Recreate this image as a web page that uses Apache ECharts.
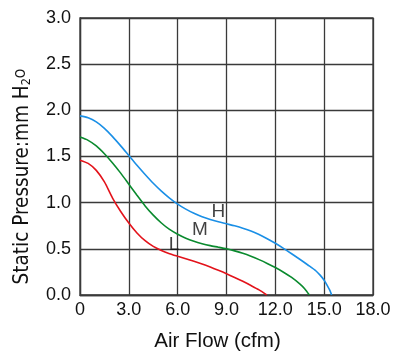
<!DOCTYPE html>
<html><head><meta charset="utf-8">
<script src="https://cdn.jsdelivr.net/npm/echarts@6/dist/echarts.min.js"></script>
<style>html,body{margin:0;padding:0;background:#fff}#c{width:400px;height:357px}</style>
</head><body><div id="c"></div>
<script>
const hFlow = [0, 0.5, 1, 1.5, 2, 2.5, 3, 3.5, 4, 4.5, 5, 5.5, 6, 6.5, 7, 7.5, 8, 8.5, 9, 9.5, 10, 10.5, 11, 11.5, 12, 12.5, 13, 13.5, 14, 14.5, 14.75, 15, 15.2, 15.35, 15.46];
const hPres = [1.94, 1.92, 1.875, 1.805, 1.715, 1.615, 1.51, 1.405, 1.305, 1.21, 1.125, 1.05, 0.985, 0.93, 0.885, 0.848, 0.818, 0.793, 0.771, 0.749, 0.724, 0.694, 0.655, 0.61, 0.56, 0.505, 0.447, 0.387, 0.325, 0.26, 0.215, 0.16, 0.10, 0.05, 0];
const mFlow = [0, 0.5, 1, 1.5, 2, 2.5, 3, 3.5, 4, 4.5, 5, 5.5, 6, 6.5, 7, 7.5, 8, 8.5, 9, 9.5, 10, 10.5, 11, 11.5, 12, 12.5, 13, 13.5, 13.8, 14.09];
const mPres = [1.71, 1.675, 1.615, 1.53, 1.43, 1.32, 1.20, 1.08, 0.965, 0.865, 0.78, 0.71, 0.658, 0.615, 0.582, 0.556, 0.535, 0.518, 0.50, 0.478, 0.452, 0.42, 0.383, 0.342, 0.297, 0.247, 0.19, 0.12, 0.068, 0];
const lFlow = [0, 0.5, 1, 1.5, 2, 2.5, 3, 3.5, 4, 4.5, 5, 5.5, 6, 6.5, 7, 7.5, 8, 8.5, 9, 9.5, 10, 10.5, 11, 11.47];
const lPres = [1.46, 1.425, 1.35, 1.225, 1.05, 0.905, 0.78, 0.672, 0.588, 0.526, 0.482, 0.448, 0.42, 0.393, 0.365, 0.335, 0.302, 0.267, 0.23, 0.19, 0.148, 0.103, 0.055, 0];
const xTicks = ['0', '3.0', '6.0', '9.0', '12.0', '15.0', '18.0'];
const yTicks = ['0.0', '0.5', '1.0', '1.5', '2.0', '2.5', '3.0'];
const curveNames = ['H', 'M', 'L'];
const curveLabelPos = [[8.5, 0.9], [7.37, 0.71], [5.77, 0.54]];
const yTitle = 'Static Pressure:mm H{sub|2}{o|O}';
const xTitle = 'Air Flow (cfm)';

const zip = (a, b) => a.map((v, i) => [v, b[i]]);
const colors = ['#1a8fe6', '#0a8a2e', '#e3131b'];
const datas = [zip(hFlow, hPres), zip(mFlow, mPres), zip(lFlow, lPres)];
const font = 'Liberation Sans, Arial, sans-serif';
const narrow = '"Liberation Sans Narrow", "Arial Narrow", "DejaVu Sans Condensed", sans-serif';

const series = datas.map((d, i) => ({
  type: 'line', name: curveNames[i], data: d, smooth: 0.25, showSymbol: false,
  lineStyle: { color: colors[i], width: 1.6 }, z: 3
}));
series.push({
  type: 'scatter', symbolSize: 0, silent: true,
  data: curveLabelPos.map((p, i) => ({ value: p, name: curveNames[i] })),
  label: { show: true, position: 'inside', formatter: p => p.name, color: '#111', fontSize: 19, fontFamily: font }
});

const chart = echarts.init(document.getElementById('c'));
chart.setOption({
  animation: false,
  grid: { left: 80, right: 27, top: 18, bottom: 61.3, show: true, borderColor: '#3a3a3a', borderWidth: 1.3 },
  graphic: [{
    type: 'text', x: 23, y: 176.5, rotation: Math.PI / 2, silent: true,
    style: {
      text: yTitle, fill: '#111', font: '20.5px ' + narrow, align: 'center', verticalAlign: 'middle',
      rich: {
        sub: { fontSize: 12.5, fill: '#111', fontFamily: narrow, padding: [8, 0, 0, 0] },
        o: { fontSize: 13.5, fill: '#111', fontFamily: narrow, padding: [0, 0, 4, 0] }
      }
    }
  }],
  xAxis: {
    type: 'value', min: 0, max: 18, interval: 3,
    name: xTitle, nameLocation: 'middle', nameGap: 36,
    nameTextStyle: { fontSize: 20.5, color: '#111', fontFamily: font, padding: [0, 18, 0, 0] },
    axisLine: { show: true, lineStyle: { color: '#3a3a3a', width: 1.3 } },
    axisTick: { show: false },
    splitLine: { show: true, lineStyle: { color: '#3a3a3a', width: 1.3 } },
    axisLabel: { fontSize: 18, color: '#111', fontFamily: font, margin: 6, formatter: (v) => xTicks[Math.round(v / 3)] }
  },
  yAxis: {
    type: 'value', min: 0, max: 3, interval: 0.5,
    axisLine: { show: true, lineStyle: { color: '#3a3a3a', width: 1.3 } },
    axisTick: { show: false },
    splitLine: { show: true, lineStyle: { color: '#3a3a3a', width: 1.3 } },
    axisLabel: { fontSize: 18, color: '#111', fontFamily: font, margin: 9, formatter: (v) => yTicks[Math.round(v / 0.5)] }
  },
  series: series
});
</script></body></html>
